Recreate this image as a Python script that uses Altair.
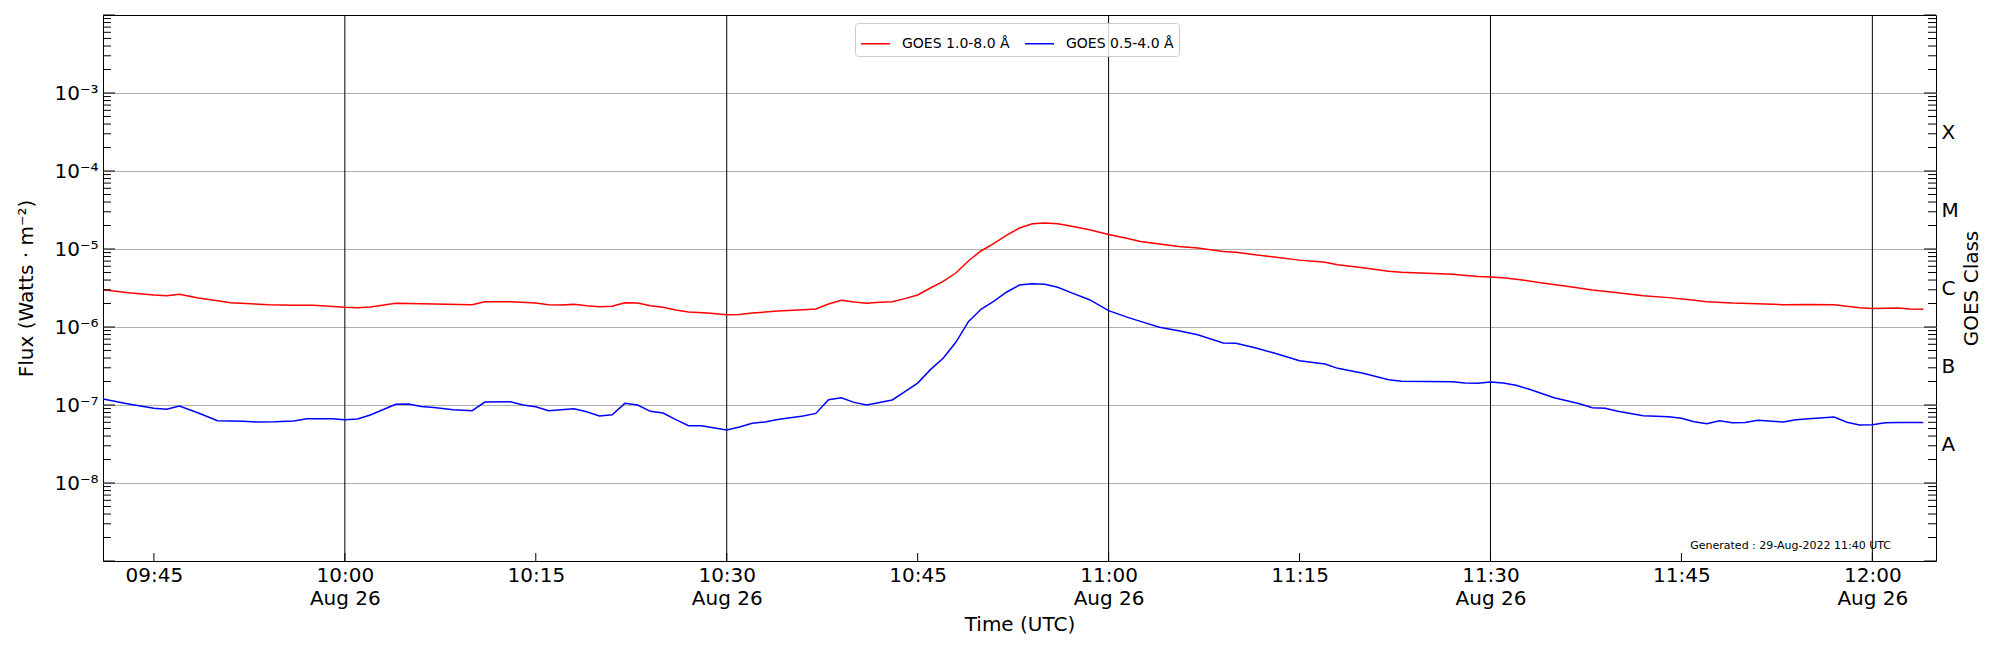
import altair as alt
import pandas as pd

DATE = "2022-08-26"

# GOES 1.0-8.0 Å
red_time = ["09:41:00", "09:43:00", "09:45:00", "09:46:00", "09:47:00", "09:48:30", "09:50:00", "09:51:00",
            "09:54:00", "09:56:00", "09:57:30", "10:00:00", "10:01:00", "10:02:00", "10:04:00", "10:07:00",
            "10:10:00", "10:11:00", "10:13:00", "10:15:00", "10:16:00", "10:17:00", "10:18:00", "10:19:00",
            "10:20:00", "10:21:00", "10:22:00", "10:23:00", "10:24:00", "10:25:00", "10:26:00", "10:27:00",
            "10:28:30", "10:30:00", "10:31:00", "10:32:00", "10:34:00", "10:36:00", "10:37:00", "10:38:00",
            "10:39:00", "10:40:00", "10:41:00", "10:42:00", "10:43:00", "10:44:00", "10:45:00", "10:46:00",
            "10:47:00", "10:48:00", "10:49:00", "10:50:00", "10:51:00", "10:52:00", "10:53:00", "10:54:00",
            "10:55:00", "10:56:00", "10:57:00", "10:58:30", "11:00:00", "11:01:30", "11:02:30", "11:04:00",
            "11:05:30", "11:07:00", "11:09:00", "11:10:00", "11:11:30", "11:13:00", "11:15:00", "11:17:00",
            "11:18:00", "11:20:00", "11:22:00", "11:23:00", "11:24:30", "11:27:00", "11:29:00", "11:30:00",
            "11:31:00", "11:32:30", "11:34:30", "11:36:00", "11:38:00", "11:40:00", "11:42:00", "11:44:00",
            "11:46:00", "11:47:00", "11:49:00", "11:51:00", "11:53:00", "11:55:00", "11:57:00", "11:58:00",
            "11:59:00", "12:00:00", "12:02:00", "12:03:00", "12:04:00"]
red_flux = [3.00e-6, 2.75e-6, 2.57e-6, 2.52e-6, 2.63e-6, 2.35e-6, 2.17e-6, 2.05e-6,
            1.93e-6, 1.90e-6, 1.90e-6, 1.79e-6, 1.77e-6, 1.80e-6, 2.01e-6, 1.97e-6,
            1.93e-6, 2.11e-6, 2.11e-6, 2.03e-6, 1.93e-6, 1.91e-6, 1.95e-6, 1.87e-6,
            1.82e-6, 1.84e-6, 2.05e-6, 2.03e-6, 1.87e-6, 1.79e-6, 1.65e-6, 1.56e-6,
            1.51e-6, 1.44e-6, 1.45e-6, 1.51e-6, 1.60e-6, 1.67e-6, 1.70e-6, 1.97e-6,
            2.20e-6, 2.09e-6, 2.01e-6, 2.07e-6, 2.11e-6, 2.31e-6, 2.57e-6, 3.16e-6,
            3.85e-6, 4.92e-6, 7.08e-6, 9.50e-6, 1.18e-5, 1.51e-5, 1.86e-5, 2.11e-5,
            2.15e-5, 2.11e-5, 1.97e-5, 1.77e-5, 1.53e-5, 1.36e-5, 1.25e-5, 1.16e-5,
            1.08e-5, 1.03e-5, 9.30e-6, 9.06e-6, 8.45e-6, 7.90e-6, 7.20e-6, 6.75e-6,
            6.30e-6, 5.76e-6, 5.18e-6, 5.02e-6, 4.92e-6, 4.73e-6, 4.45e-6, 4.38e-6,
            4.29e-6, 4.00e-6, 3.59e-6, 3.32e-6, 2.98e-6, 2.75e-6, 2.52e-6, 2.38e-6,
            2.20e-6, 2.11e-6, 2.03e-6, 1.99e-6, 1.93e-6, 1.95e-6, 1.93e-6, 1.84e-6,
            1.77e-6, 1.73e-6, 1.75e-6, 1.70e-6, 1.69e-6]

# GOES 0.5-4.0 Å
blue_time = ["09:41:00", "09:43:00", "09:45:00", "09:46:00", "09:47:00", "09:48:30", "09:50:00", "09:52:00",
             "09:53:00", "09:54:30", "09:56:00", "09:57:00", "09:59:00", "10:00:00", "10:01:00", "10:02:00",
             "10:04:00", "10:05:00", "10:06:00", "10:07:00", "10:08:30", "10:10:00", "10:11:00", "10:13:00",
             "10:14:00", "10:15:00", "10:16:00", "10:17:00", "10:18:00", "10:19:00", "10:20:00", "10:21:00",
             "10:22:00", "10:23:00", "10:24:00", "10:25:00", "10:26:00", "10:27:00", "10:28:00", "10:30:00",
             "10:31:00", "10:32:00", "10:33:00", "10:34:00", "10:36:00", "10:37:00", "10:38:00", "10:39:00",
             "10:40:00", "10:41:00", "10:42:00", "10:43:00", "10:44:00", "10:45:00", "10:46:00", "10:47:00",
             "10:48:00", "10:49:00", "10:50:00", "10:51:00", "10:52:00", "10:53:00", "10:54:00", "10:55:00",
             "10:56:00", "10:57:00", "10:58:30", "11:00:00", "11:01:30", "11:02:30", "11:04:00", "11:05:30",
             "11:07:00", "11:09:00", "11:10:00", "11:11:30", "11:13:00", "11:15:00", "11:17:00", "11:18:00",
             "11:20:00", "11:22:00", "11:23:00", "11:27:00", "11:28:00", "11:29:00", "11:30:00", "11:31:00",
             "11:32:00", "11:33:00", "11:35:00", "11:37:00", "11:38:00", "11:39:00", "11:40:00", "11:42:00",
             "11:44:00", "11:45:00", "11:46:00", "11:47:00", "11:48:00", "11:49:00", "11:50:00", "11:51:00",
             "11:53:00", "11:54:00", "11:55:00", "11:57:00", "11:58:00", "11:59:00", "12:00:00", "12:01:00",
             "12:02:00", "12:04:00"]
blue_flux = [1.19e-7, 1.03e-7, 9.06e-8, 8.80e-8, 9.70e-8, 7.90e-8, 6.30e-8, 6.17e-8,
             6.05e-8, 6.10e-8, 6.24e-8, 6.68e-8, 6.68e-8, 6.48e-8, 6.60e-8, 7.44e-8,
             1.02e-7, 1.03e-7, 9.60e-8, 9.30e-8, 8.70e-8, 8.45e-8, 1.09e-7, 1.10e-7,
             1.00e-7, 9.50e-8, 8.45e-8, 8.70e-8, 8.97e-8, 8.20e-8, 7.23e-8, 7.50e-8,
             1.05e-7, 1.00e-7, 8.30e-8, 7.90e-8, 6.50e-8, 5.43e-8, 5.43e-8, 4.78e-8,
             5.22e-8, 5.82e-8, 6.05e-8, 6.50e-8, 7.23e-8, 7.80e-8, 1.17e-7, 1.24e-7,
             1.08e-7, 1.00e-7, 1.08e-7, 1.16e-7, 1.48e-7, 1.91e-7, 2.84e-7, 3.97e-7,
             6.36e-7, 1.18e-6, 1.70e-6, 2.15e-6, 2.81e-6, 3.45e-6, 3.59e-6, 3.52e-6,
             3.23e-6, 2.78e-6, 2.24e-6, 1.62e-6, 1.33e-6, 1.18e-6, 9.90e-7, 8.97e-7,
             7.97e-7, 6.24e-7, 6.20e-7, 5.43e-7, 4.64e-7, 3.70e-7, 3.36e-7, 2.95e-7,
             2.55e-7, 2.11e-7, 2.01e-7, 1.99e-7, 1.91e-7, 1.90e-7, 1.97e-7, 1.91e-7,
             1.79e-7, 1.60e-7, 1.24e-7, 1.04e-7, 9.25e-8, 9.06e-8, 8.30e-8, 7.30e-8,
             7.08e-8, 6.75e-8, 6.10e-8, 5.76e-8, 6.30e-8, 5.93e-8, 5.98e-8, 6.36e-8,
             6.05e-8, 6.48e-8, 6.68e-8, 7.00e-8, 6.00e-8, 5.54e-8, 5.58e-8, 5.93e-8,
             5.98e-8, 5.98e-8]

series_names = ["GOES 1.0-8.0 Å", "GOES 0.5-4.0 Å"]
series_colors = ["#ff0000", "#0000ff"]

x_tick_times = ["09:45", "10:00", "10:15", "10:30", "10:45", "11:00", "11:15", "11:30", "11:45", "12:00"]
vline_times = ["10:00", "10:30", "11:00", "11:30", "12:00"]
decade_exps = [-8, -7, -6, -5, -4, -3]
class_labels = ["A", "B", "C", "M", "X"]
class_exps = [-7.5, -6.5, -5.5, -4.5, -3.5]
generated_text = "Generated : 29-Aug-2022 11:40 UTC"

W, H = 1833, 546
FONT = "DejaVu Sans"


def iso(t):
    if len(t) == 5:
        t = t + ":00"
    return f"{DATE}T{t}Z"


def dt(t):
    h, m = t.split(":")[:2]
    return alt.DateTime(year=2022, month=8, date=26, hours=int(h), minutes=int(m), utc=True)


lines_df = pd.concat([
    pd.DataFrame({"time": [iso(t) for t in red_time], "flux": red_flux, "series": series_names[0]}),
    pd.DataFrame({"time": [iso(t) for t in blue_time], "flux": blue_flux, "series": series_names[1]}),
])

major_vals = [10.0 ** e for e in range(-9, -1)]
minor_vals = [m * 10.0 ** e for e in range(-9, -2) for m in range(2, 10)]
major_df = pd.DataFrame({"v": major_vals})
minor_df = pd.DataFrame({"v": minor_vals})
xt_df = pd.DataFrame({"time": [iso(t) for t in x_tick_times]})
vl_df = pd.DataFrame({"time": [iso(t) for t in vline_times]})
gen_df = pd.DataFrame({"label": [generated_text]})

x_scale = alt.Scale(type="utc", domain=[dt("09:41"), dt("12:05")], nice=False)
y_scale = alt.Scale(type="log", domain=[1e-9, 1e-2], nice=False)

sup = "['⁰','¹','²','³','⁴','⁵','⁶','⁷','⁸','⁹']"
left_label = f"'10⁻' + {sup}[round(-log(datum.value)/LN10)]"
class_label_expr = "[" + ",".join(f"'{c}'" for c in class_labels) + "][round(log(datum.value)/LN10 + 7.5)]"

x_axis = alt.Axis(
    values=[dt(t) for t in x_tick_times],
    labelExpr="utcminutes(datum.value) % 30 == 0 ? [utcFormat(datum.value, '%H:%M'), utcFormat(datum.value, '%b %d')] : utcFormat(datum.value, '%H:%M')",
    ticks=False, domain=False, grid=False,
    labelFontSize=20, labelPadding=4, labelLineHeight=23, labelColor="black", labelFont=FONT,
    labelBaseline="top", labelFlush=False, labelOverlap=False,
    title="Time (UTC)", titleFontSize=20, titleFontWeight="normal", titleColor="black", titleFont=FONT,
    titlePadding=6,
)

left_axis = alt.Axis(
    orient="left", values=[10.0 ** e for e in decade_exps], labelExpr=left_label,
    ticks=False, domain=False, grid=True, gridColor="#b0b0b0", gridWidth=1,
    labelFontSize=20, labelPadding=5, labelColor="black", labelFont=FONT,
    title="Flux (Watts · m⁻²)", titleFontSize=20, titleFontWeight="normal", titleColor="black",
    titleFont=FONT, titleX=-77, titleY=H / 2, titleAngle=-90, titleBaseline="middle", titleAlign="center",
)

right_axis = alt.Axis(
    orient="right", values=[10.0 ** e for e in class_exps], labelExpr=class_label_expr,
    ticks=False, domain=False, grid=False,
    labelFontSize=20, labelPadding=5, labelColor="black", labelFont=FONT,
    title="GOES Class", titleFontSize=20, titleFontWeight="normal", titleColor="black", titleFont=FONT,
    titleX=35, titleY=H / 2, titleAngle=-90, titleBaseline="middle", titleAlign="center",
)

lines = alt.Chart(lines_df).mark_line(strokeWidth=1.5, clip=True).encode(
    x=alt.X("time:T", scale=x_scale, axis=x_axis),
    y=alt.Y("flux:Q", scale=y_scale, axis=left_axis),
    color=alt.Color(
        "series:N",
        scale=alt.Scale(domain=series_names, range=series_colors),
        legend=alt.Legend(
            orient="none", legendX=752, legendY=8, direction="horizontal", columns=2, title=None,
            symbolType="stroke", symbolSize=841, symbolStrokeWidth=1.5,
            labelFontSize=14, labelFont=FONT, labelColor="black", labelOffset=11, labelLimit=0,
            columnPadding=12, padding=5, strokeColor="#cccccc", cornerRadius=3,
            fillColor="rgba(255,255,255,0.8)",
        ),
    ),
    detail="series:N",
)

vlines = alt.Chart(vl_df).mark_rule(color="black", strokeWidth=1).encode(
    x=alt.X("time:T", scale=x_scale, axis=x_axis),
)

x_ticks = alt.Chart(xt_df).mark_rule(color="black", strokeWidth=1).encode(
    x=alt.X("time:T", scale=x_scale, axis=x_axis),
    y=alt.value(H), y2=alt.value(H - 8),
)

left_minor = alt.Chart(minor_df).mark_rule(color="black", strokeWidth=1).encode(
    y=alt.Y("v:Q", scale=y_scale, axis=None), x=alt.value(0), x2=alt.value(8),
)
left_major = alt.Chart(major_df).mark_rule(color="black", strokeWidth=1).encode(
    y=alt.Y("v:Q", scale=y_scale, axis=None), x=alt.value(0), x2=alt.value(12),
)
right_minor = alt.Chart(minor_df).mark_rule(color="black", strokeWidth=1).encode(
    y=alt.Y("v:Q", scale=y_scale, axis=right_axis), x=alt.value(W - 8), x2=alt.value(W),
)
right_major = alt.Chart(major_df).mark_rule(color="black", strokeWidth=1).encode(
    y=alt.Y("v:Q", scale=y_scale, axis=None), x=alt.value(W - 12), x2=alt.value(W),
)

gen = alt.Chart(gen_df).mark_text(
    align="right", baseline="alphabetic", fontSize=11, font=FONT, color="black"
).encode(text="label:N", x=alt.value(1788), y=alt.value(534))

chart = alt.layer(
    vlines, lines, left_minor, left_major, right_minor, right_major, x_ticks, gen
).resolve_axis(y="independent").properties(
    width=W, height=H,
    autosize=alt.AutoSizeParams(type="none"),
    padding={"left": 95, "top": 7, "right": 56, "bottom": 81},
).configure(font=FONT).configure_view(stroke="black", strokeWidth=1)

chart.save("out.html", embed_options={"renderer": "svg", "actions": False})
